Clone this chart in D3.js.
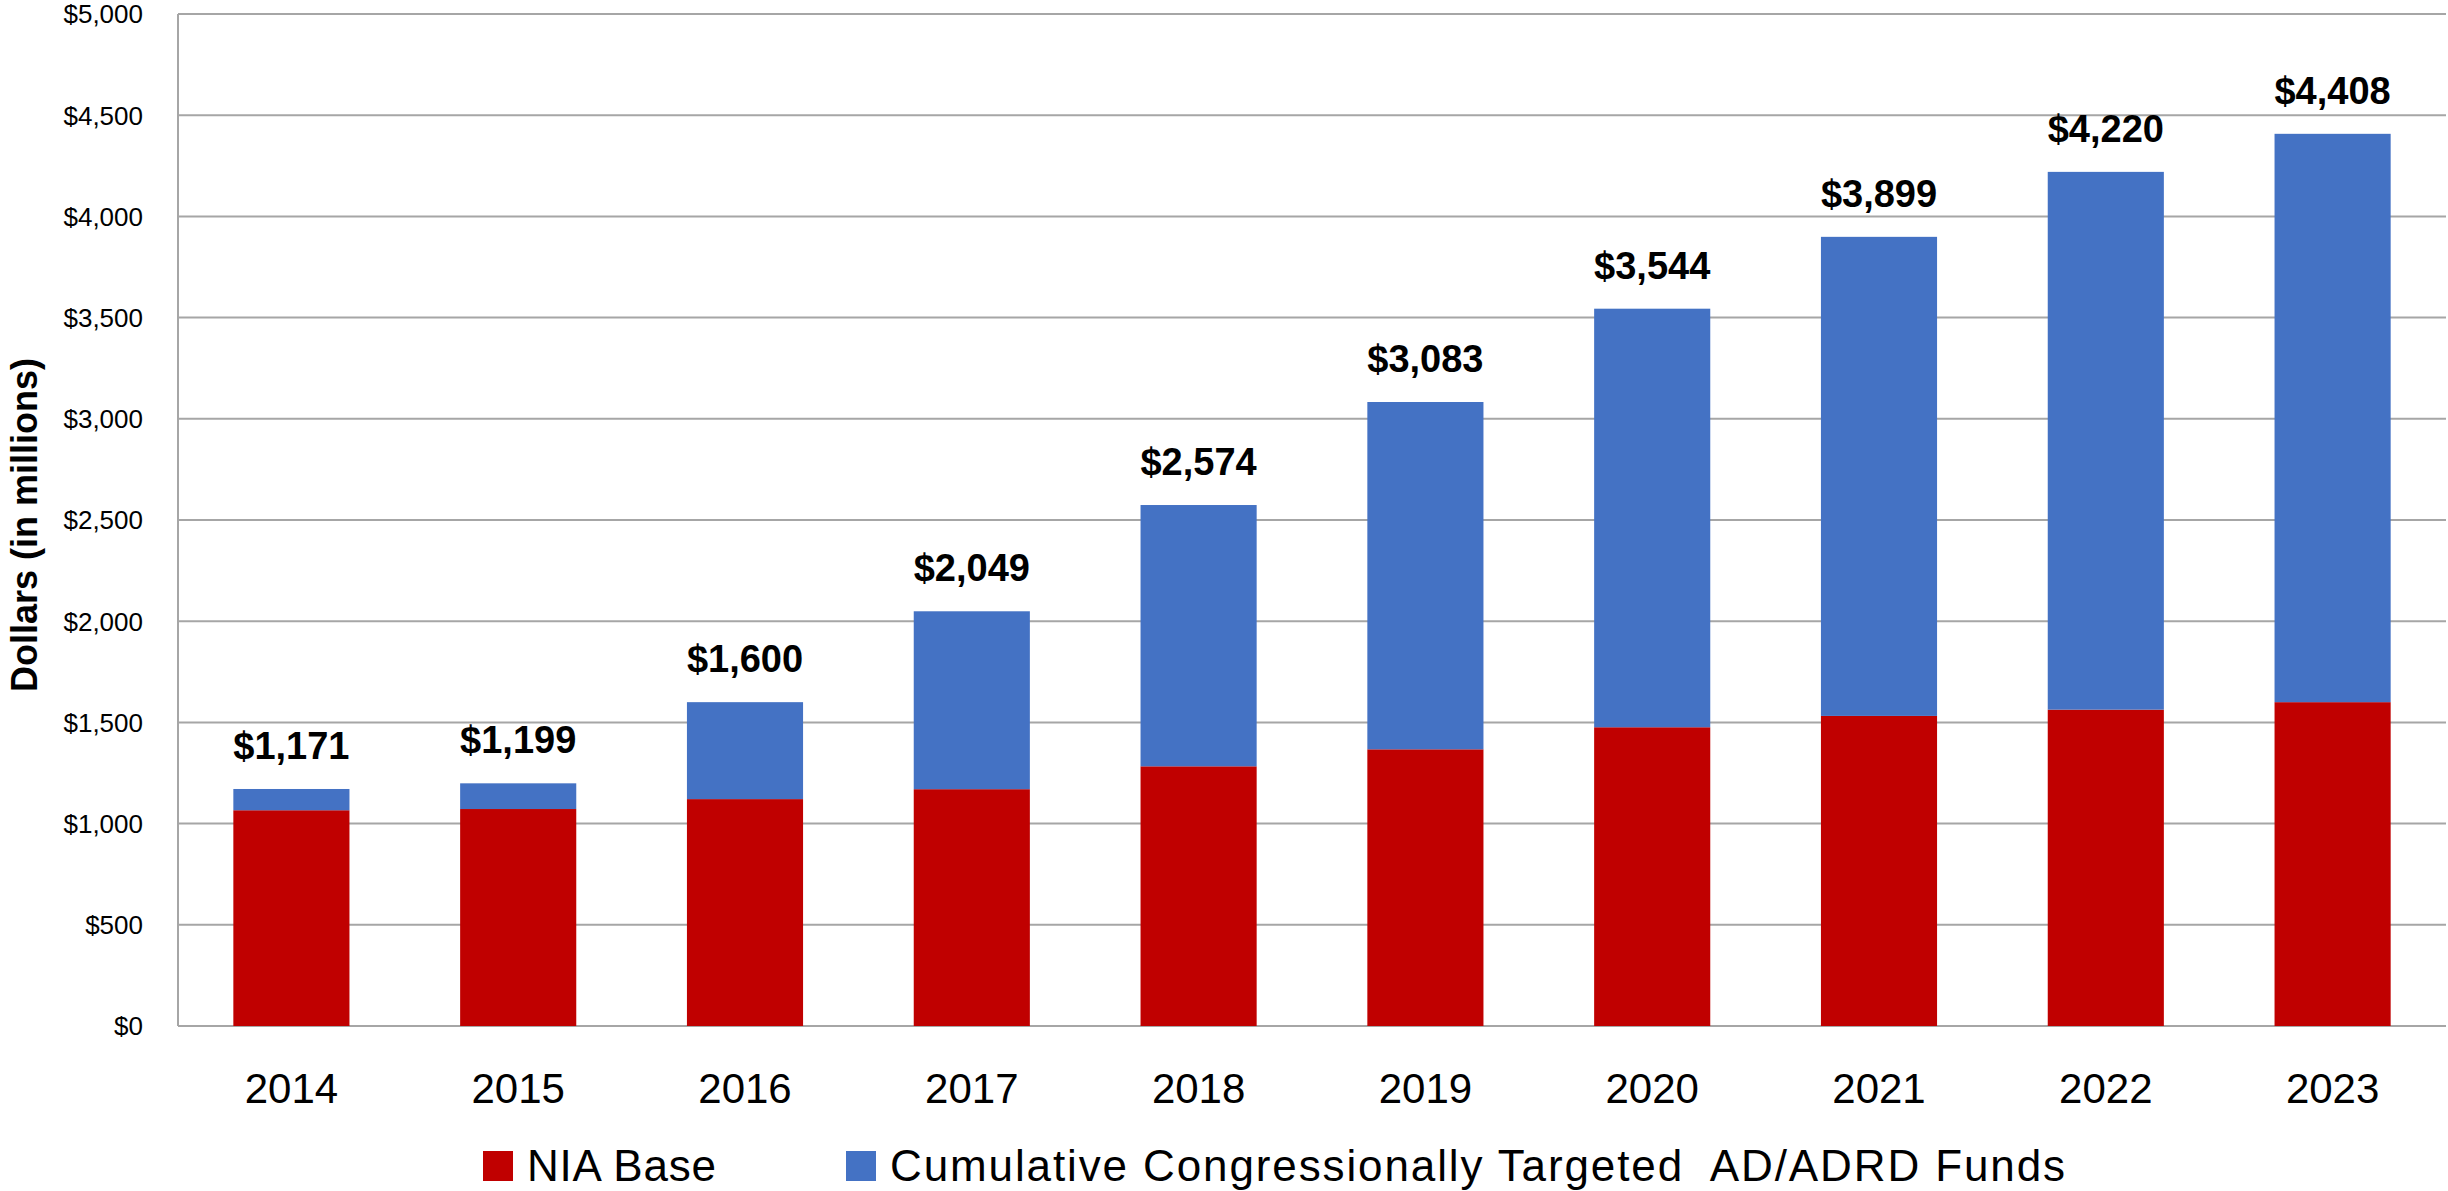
<!DOCTYPE html>
<html lang="en">
<head>
<meta charset="utf-8">
<title>NIA AD/ADRD funding</title>
<script src="https://d3js.org/d3.v7.min.js"></script>
<style>
  body { margin: 0; background: #fff; }
  text { font-family: "Liberation Sans", Arial, sans-serif; fill: #000; }
</style>
</head>
<body>
<script>
// values in millions of dollars
var years = ["2014", "2015", "2016", "2017", "2018", "2019", "2020", "2021", "2022", "2023"];
var niaBase = [1066, 1072, 1121, 1170, 1283, 1367, 1476, 1532, 1563, 1600];
var totals = [1171, 1199, 1600, 2049, 2574, 3083, 3544, 3899, 4220, 4408];
var yTicks = [0, 500, 1000, 1500, 2000, 2500, 3000, 3500, 4000, 4500, 5000];
var seriesNames = ["NIA Base", "Cumulative Congressionally Targeted  AD/ADRD Funds"];
var colors = ["#c00000", "#4472c4"];

var width = 2448, height = 1191;
var margin = {top: 14, right: 2, bottom: 165, left: 178};

var rows = years.map(function(y, i) {
  return {year: y, base: niaBase[i], targeted: totals[i] - niaBase[i], total: totals[i]};
});

var svg = d3.select("body").append("svg")
  .attr("width", width)
  .attr("height", height);

var x = d3.scaleBand()
  .domain(years)
  .range([margin.left, width - margin.right])
  .paddingInner(0.488)
  .paddingOuter(0.244);

var y = d3.scaleLinear()
  .domain([0, 5000])
  .range([height - margin.bottom, margin.top]);

// gridlines
svg.append("g")
  .selectAll("line")
  .data(yTicks)
  .join("line")
  .attr("x1", margin.left)
  .attr("x2", width - margin.right)
  .attr("y1", function(d) { return y(d); })
  .attr("y2", function(d) { return y(d); })
  .attr("stroke", "#a6a6a6")
  .attr("stroke-width", 2);

svg.append("line")
  .attr("x1", margin.left).attr("x2", margin.left)
  .attr("y1", y(5000)).attr("y2", y(0))
  .attr("stroke", "#a6a6a6")
  .attr("stroke-width", 2);

// y tick labels
svg.append("g")
  .selectAll("text")
  .data(yTicks)
  .join("text")
  .attr("x", 143)
  .attr("y", function(d) { return y(d); })
  .attr("dy", "0.36em")
  .attr("text-anchor", "end")
  .attr("font-size", 26)
  .text(function(d) { return "$" + d3.format(",")(d); });

// stacked bars
var stack = d3.stack().keys(["base", "targeted"]);
var layers = stack(rows);

svg.append("g")
  .selectAll("g")
  .data(layers)
  .join("g")
  .attr("fill", function(d, i) { return colors[i]; })
  .selectAll("rect")
  .data(function(d) { return d; })
  .join("rect")
  .attr("x", function(d) { return x(d.data.year); })
  .attr("width", x.bandwidth())
  .attr("y", function(d) { return y(d[1]); })
  .attr("height", function(d) { return y(d[0]) - y(d[1]); });

// total labels
svg.append("g")
  .selectAll("text")
  .data(rows)
  .join("text")
  .attr("x", function(d) { return x(d.year) + x.bandwidth() / 2; })
  .attr("y", function(d) { return y(d.total) - 30; })
  .attr("text-anchor", "middle")
  .attr("font-size", 38)
  .attr("font-weight", "bold")
  .text(function(d) { return "$" + d3.format(",")(d.total); });

// x labels
svg.append("g")
  .selectAll("text")
  .data(years)
  .join("text")
  .attr("x", function(d) { return x(d) + x.bandwidth() / 2; })
  .attr("y", 1103)
  .attr("text-anchor", "middle")
  .attr("font-size", 42)
  .text(function(d) { return d; });

// y axis title
svg.append("text")
  .attr("transform", "translate(37," + (y(2500) + 5) + ") rotate(-90)")
  .attr("text-anchor", "middle")
  .attr("font-size", 36)
  .attr("font-weight", "bold")
  .text("Dollars (in millions)");

// legend
var legendX = [483, 846];
var legendTextW = [189, 1175];
var legend = svg.append("g")
  .selectAll("g")
  .data(seriesNames)
  .join("g")
  .attr("transform", function(d, i) { return "translate(" + legendX[i] + ",1151)"; });

legend.append("rect")
  .attr("width", 30)
  .attr("height", 30)
  .attr("fill", function(d, i) { return colors[i]; });

legend.append("text")
  .attr("x", 44)
  .attr("y", 30)
  .attr("font-size", 44)
  .attr("textLength", function(d, i) { return legendTextW[i]; })
  .attr("lengthAdjust", "spacing")
  .style("white-space", "pre")
  .text(function(d) { return d; });
</script>
</body>
</html>
